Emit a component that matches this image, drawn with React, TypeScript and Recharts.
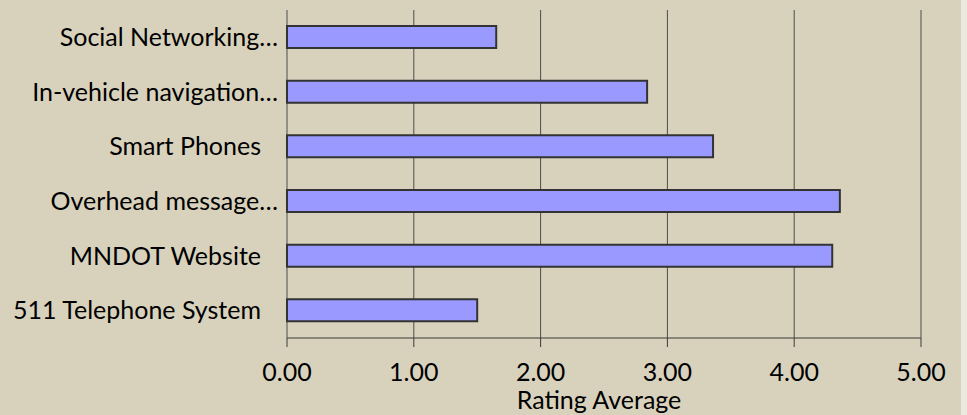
import { BarChart, Bar, XAxis, YAxis, CartesianGrid } from "recharts";

const categories = [
  "Social Networking…",
  "In-vehicle navigation…",
  "Smart Phones",
  "Overhead message…",
  "MNDOT Website",
  "511 Telephone System",
];
const ratingAverages = [1.65, 2.84, 3.36, 4.36, 4.3, 1.5];
const xTicks = [0, 1, 2, 3, 4, 5];
const bandEdges = [0, 1, 2, 3, 4, 5, 6];

const data = categories.map((name, i) => ({ name, rating: ratingAverages[i] }));

const FONT = "Lato, 'Open Sans', sans-serif";
const INK = "#000000";
const SIZE = 25;

function CategoryTick({ x, y, payload }: any) {
  const label = String(payload.value);
  // full labels sit a little further from the axis than the truncated ones
  const shift = label.endsWith("…") ? 0 : 17;
  return (
    <text x={x - shift} y={y} dy="0.35em" textAnchor="end" fill={INK} fontSize={SIZE} fontFamily={FONT}>
      {label}
    </text>
  );
}

export default function App() {
  return (
    <div style={{ position: "absolute", left: 0, top: 0, width: 967, height: 415, background: "#ebe8df" }}>
      <div style={{ width: 961, height: 415, background: "#d8d2bd" }}>
        <BarChart
          width={961}
          height={415}
          data={data}
          layout="vertical"
          margin={{ top: 10, right: 40, bottom: 0, left: 0 }}
        >
          <CartesianGrid horizontal={false} yAxisId="cat" stroke="#4d4d4d" />
          <YAxis
            yAxisId="edges"
            type="number"
            domain={[0, 6]}
            ticks={bandEdges}
            allowDataOverflow
            width={0}
            tick={false}
            tickSize={9}
            stroke="#3a3a3a"
          />
          <YAxis
            yAxisId="cat"
            type="category"
            dataKey="name"
            width={287}
            interval={0}
            tickLine={false}
            axisLine={false}
            tickSize={9}
            tickMargin={0}
            tick={<CategoryTick />}
          />
          <XAxis
            type="number"
            domain={[0, 5]}
            ticks={xTicks}
            tickFormatter={(v: number) => v.toFixed(2)}
            height={77}
            tickSize={9}
            tickMargin={16}
            stroke="#3a3a3a"
            tick={{ fill: INK, fontSize: SIZE, fontFamily: FONT }}
            label={{
              value: "Rating Average",
              position: "insideBottom",
              offset: 6,
              dx: -5,
              fill: INK,
              fontSize: SIZE,
              fontFamily: FONT,
            }}
          />
          <Bar
            yAxisId="cat"
            dataKey="rating"
            fill="#9999ff"
            stroke="#333333"
            strokeWidth={2}
            barSize={22}
            isAnimationActive={false}
          />
        </BarChart>
      </div>
    </div>
  );
}
